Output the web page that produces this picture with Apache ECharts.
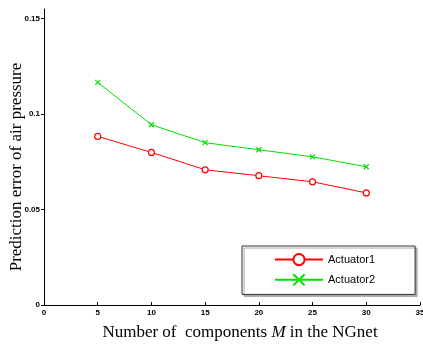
<!DOCTYPE html>
<html>
<head>
<meta charset="utf-8">
<script src="https://cdn.jsdelivr.net/npm/echarts@6/dist/echarts.min.js"></script>
<style>
html,body{margin:0;padding:0;background:#fff;}
#c{width:423px;height:345px;}
</style>
</head>
<body>
<div id="c"></div>
<script>
var components = [5, 10, 15, 20, 25, 30];
var actuator1 = [0.0883, 0.0799, 0.0708, 0.0677, 0.0645, 0.0587];
var actuator2 = [0.1166, 0.0944, 0.0850, 0.0813, 0.0776, 0.0724];
var xTicks = [0, 5, 10, 15, 20, 25, 30, 35];
var yTicks = [0, 0.05, 0.1, 0.15];

var crossPath = 'path://M0,0L10,10M10,0L0,10';

function pairs(xs, ys) { return xs.map(function (x, i) { return [x, ys[i]]; }); }

var chart = echarts.init(document.getElementById('c'), null, {renderer: 'canvas'});
chart.setOption({
  animation: false,
  backgroundColor: '#fff',
  grid: {left: 44, right: 3, top: 9, bottom: 40, containLabel: false, outerBoundsMode: 'none'},
  xAxis: {
    type: 'value', min: 0, max: 35, interval: 5,
    axisLine: {show: true, lineStyle: {color: '#000', width: 1}},
    axisTick: {show: true, inside: true, length: 3, lineStyle: {color: '#000'}, customValues: xTicks},
    axisLabel: {color: '#000', fontFamily: 'Liberation Sans', fontWeight: 'bold', fontSize: 8, margin: 4, customValues: xTicks},
    splitLine: {show: false},
    name: '{a|Number of  components }{b|M}{a| in the NGnet}',
    nameLocation: 'middle', nameGap: 19, nameMoveOverlap: false,
    nameTextStyle: {
      padding: [0, 0, 0, 16],
      rich: {
        a: {fontFamily: 'Liberation Serif', fontSize: 17, color: '#000'},
        b: {fontFamily: 'Liberation Serif', fontSize: 17, fontStyle: 'italic', color: '#000'}
      }
    }
  },
  yAxis: {
    type: 'value', min: 0, max: 0.155, interval: 0.05,
    axisLine: {show: true, lineStyle: {color: '#000', width: 1}},
    axisTick: {show: true, inside: false, length: 3, lineStyle: {color: '#000'}, customValues: yTicks},
    axisLabel: {color: '#000', fontFamily: 'Liberation Sans', fontWeight: 'bold', fontSize: 8, margin: 4, customValues: yTicks},
    splitLine: {show: false},
    name: 'Prediction error of air pressure',
    nameLocation: 'middle', nameGap: 19, nameMoveOverlap: false,
    nameTextStyle: {fontFamily: 'Liberation Serif', fontSize: 17, color: '#000', padding: [0, 20, 0, 0]}
  },
  legend: {
    orient: 'vertical',
    left: 242, top: 246,
    padding: [7, 40, 8, 32],
    itemWidth: 48, itemHeight: 14, itemGap: 7,
    backgroundColor: '#fff',
    borderColor: '#333', borderWidth: 1,
    shadowColor: '#aaa', shadowOffsetX: 2, shadowOffsetY: 2, shadowBlur: 0,
    textStyle: {fontFamily: 'Liberation Sans', fontSize: 11, color: '#000'},
    data: ['Actuator1', 'Actuator2']
  },
  series: [
    {
      name: 'Actuator1', type: 'line',
      data: pairs(components, actuator1),
      symbol: 'circle', symbolSize: 6,
      lineStyle: {color: '#ff0000', width: 1},
      itemStyle: {color: '#fff', borderColor: '#ff0000', borderWidth: 1.2},
      emphasis: {disabled: true}
    },
    {
      name: 'Actuator2', type: 'line',
      data: pairs(components, actuator2),
      symbol: crossPath, symbolSize: 5,
      lineStyle: {color: '#00e000', width: 1},
      itemStyle: {color: '#00e000', borderColor: '#00e000', borderWidth: 1.2},
      emphasis: {disabled: true}
    }
  ]
});
</script>
</body>
</html>
